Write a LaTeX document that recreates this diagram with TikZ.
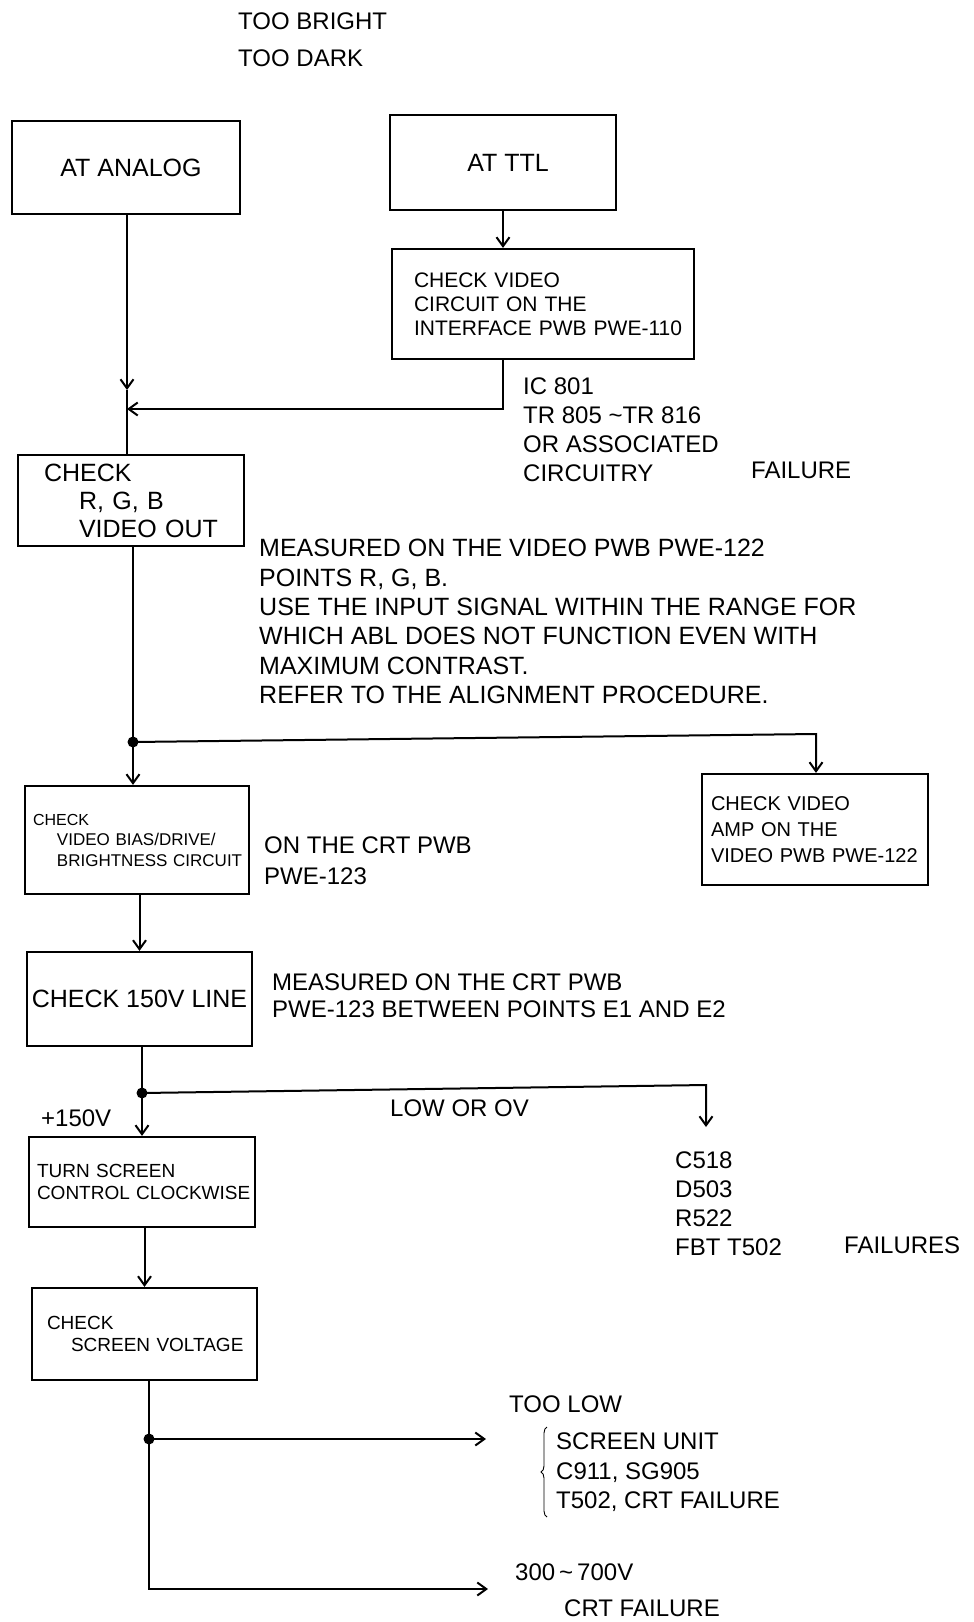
\documentclass[tikz,border=0pt]{standalone}
\usepackage{fontspec}
\setmainfont{Liberation Sans}
\usetikzlibrary{arrows.meta,decorations.pathreplacing,calc}
\newcommand{\myfs}[2]{\fontsize{#1}{#2}\selectfont}
\begin{document}
\begin{tikzpicture}[x=1pt,y=-1pt,
  bx/.style={draw,line width=2.2pt,inner ysep=0pt,align=left},
  cbx/.style={draw,line width=2.2pt,inner sep=0pt,align=center},
  conn/.style={line width=2pt},
  arr/.style={line width=2pt,-{Straight Barb[length=9pt,width=13pt]}},
  txt/.style={anchor=west,inner sep=0pt,align=left,font=\myfs{24}{29}},
  dot/.style={circle,fill,inner sep=0pt,minimum size=11pt}]
\useasboundingbox (0,0) rectangle (974,1622);

% top labels
\node[txt] (bright) at (238,21) {TOO BRIGHT};
\node[txt] (dark) at (238,58) {TOO DARK};

% boxes
\node[cbx,minimum width=228pt,minimum height=93pt,font=\myfs{25}{30}] (analog) at (126,167.5) {\hspace*{10pt}AT ANALOG};
\node[cbx,minimum width=226pt,minimum height=95pt,font=\myfs{25}{30}] (ttl) at (503,162.5) {\hspace*{10pt}AT TTL};
\node[bx,text width=258pt,inner xsep=22pt,minimum height=110pt,font=\myfs{21}{24}] (ttlchk) at (543,304)
  {\mbox{CHECK VIDEO}\\\mbox{CIRCUIT ON THE}\\\mbox{INTERFACE PWB PWE-110}};
\node[bx,text width=174pt,inner xsep=26pt,minimum height=91pt,font=\myfs{25}{28}] (rgb) at (131,500.5)
  {\mbox{CHECK}\\\mbox{\hspace*{35pt}R, G, B}\\\mbox{\hspace*{35pt}VIDEO OUT}};
\node[bx,text width=208pt,inner xsep=8pt,minimum height=108pt,font=\myfs{17}{20.5}] (bias) at (137,840)
  {\mbox{\myfs{16}{20.5}CHECK}\\\mbox{\hspace*{24pt}VIDEO BIAS/DRIVE/}\\\mbox{\hspace*{24pt}BRIGHTNESS CIRCUIT}};
\node[bx,text width=208pt,inner xsep=9pt,minimum height=111pt,font=\myfs{20}{26}] (amp) at (815,829.5)
  {\mbox{CHECK VIDEO}\\\mbox{AMP ON THE}\\\mbox{VIDEO PWB PWE-122}};
\node[cbx,minimum width=225pt,minimum height=94pt,font=\myfs{25}{30}] (c150) at (139.5,999) {CHECK 150V LINE};
\node[bx,text width=210pt,inner xsep=8pt,minimum height=90pt,font=\myfs{19}{22}] (turn) at (142,1182)
  {\mbox{TURN SCREEN}\\\mbox{CONTROL CLOCKWISE}};
\node[bx,text width=195pt,inner xsep=15pt,minimum height=92pt,font=\myfs{19}{22}] (scv) at (144.5,1334)
  {\mbox{CHECK}\\\mbox{\hspace*{24pt}SCREEN VOLTAGE}};

% side texts
\node[txt] (ic) at (523,429.5) {IC 801\\TR 805 \textasciitilde TR 816\\OR ASSOCIATED\\CIRCUITRY};
\node[txt] (fail1) at (751,470) {FAILURE};
\node[txt,font=\myfs{25}{29.4}] (notes) at (259,621.5)
  {MEASURED ON THE VIDEO PWB PWE-122\\POINTS R, G, B.\\USE THE INPUT SIGNAL WITHIN THE RANGE FOR\\WHICH ABL DOES NOT FUNCTION EVEN WITH\\MAXIMUM CONTRAST.\\REFER TO THE ALIGNMENT PROCEDURE.};
\node[txt,font=\myfs{24}{31}] (crt1) at (264,860.5) {ON THE CRT PWB\\PWE-123};
\node[txt,font=\myfs{24}{27}] (meas2) at (272,995.5) {MEASURED ON THE CRT PWB\\PWE-123 BETWEEN POINTS E1 AND E2};
\node[txt] (p150) at (41,1118) {+150V};
\node[txt] (lowov) at (390,1108) {LOW OR OV};
\node[txt] (parts) at (675,1204) {C518\\D503\\R522\\FBT T502};
\node[txt] (fails) at (844,1245) {FAILURES};
\node[txt] (toolow) at (509,1404) {TOO LOW};
\node[txt,font=\myfs{24}{29.5}] (screenu) at (556,1472.5) {SCREEN UNIT\\C911, SG905\\T502, CRT FAILURE};
\node[txt] (range) at (515,1572) {300\,\textasciitilde\,700V};
\node[txt] (crtf) at (564,1608) {CRT FAILURE};

% coordinates
\coordinate (a1) at (127,390);
\coordinate (j1) at (127,409);
\coordinate (d1) at (133,742);
\coordinate (c2) at (816,734);
\coordinate (d2) at (142,1093);
\coordinate (c3) at (706,1085);
\coordinate (lowtip) at (706,1127);
\coordinate (d3) at (149,1439);
\coordinate (d4) at (149,1589);
\coordinate (t1) at (486,1439);
\coordinate (t2) at (488,1589);

% connectors
\draw[arr] (analog.south -| a1) -- (a1);
\draw[conn] (a1) -- (a1 |- rgb.north);
\draw[arr] (ttl.south) -- (ttl.south |- ttlchk.north);
\draw[arr] (ttl.south |- ttlchk.south) -- (ttl.south |- j1) -- (j1);

\draw[conn] (rgb.south -| d1) -- (d1);
\draw[arr] (d1) -- (d1 |- bias.north);
\draw[arr] (d1) -- (c2) -- (c2 |- amp.north);

\draw[arr] (c150.north |- bias.south) -- (c150.north);

\draw[conn] (c150.south -| d2) -- (d2);
\draw[arr] (d2) -- (d2 |- turn.north);
\draw[arr] (d2) -- (c3) -- (lowtip);

\draw[arr] (turn.south -| scv.north) -- (scv.north);

\draw[arr] (scv.south -| d3) -- (d4) -- (t2);
\draw[arr] (d3) -- (t1);

% dots
\node[dot] (dot1) at (d1) {};
\node[dot] (dot2) at (d2) {};
\node[dot] (dot3) at (d3) {};

% brace
\draw[line width=0.9pt,decorate,decoration={brace,amplitude=6pt}] (547,1517) -- (547,1427);
\end{tikzpicture}
\end{document}
